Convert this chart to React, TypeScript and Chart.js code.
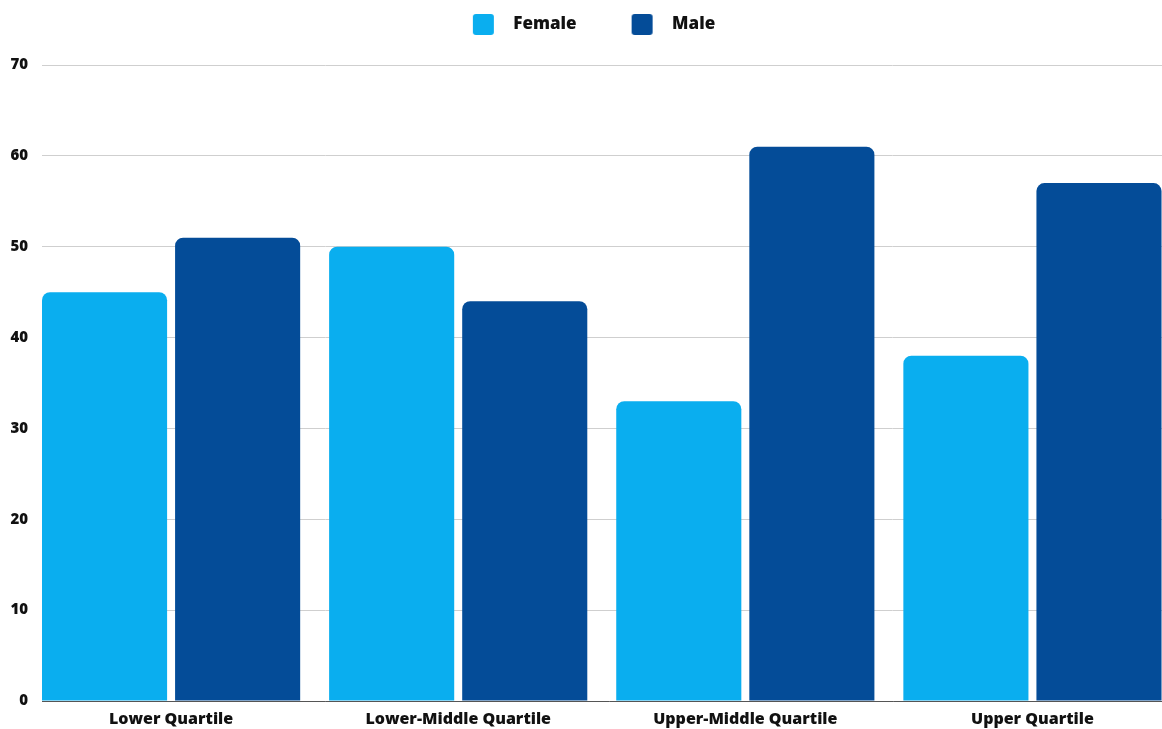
import React, { useEffect, useRef } from 'react';
import { Chart, registerables } from 'chart.js';

Chart.register(...registerables);

// ---- data ----
const categories = ['Lower Quartile', 'Lower-Middle Quartile', 'Upper-Middle Quartile', 'Upper Quartile'];
const seriesNames = ['Female', 'Male'];
const femaleValues = [45, 50, 33, 38];
const maleValues = [51, 44, 61, 57];
const yTickValues = [0, 10, 20, 30, 40, 50, 60, 70];

// ---- styling / layout ----
const seriesColors = ['#0AAEEF', '#044C98'];
const CANVAS_W = 1209;
const CANVAS_H = 729;
const OFFSET_X = 33;
const Y_AXIS_W = 75;
const X_AXIS_H = 28;
const LEGEND_H = 59;
const CAT_PCT = 0.927;
const BAR_PCT = 0.94;
const FONT = '"Open Sans", "DejaVu Sans", sans-serif';
const LEGEND_FONT = 17;
const SWATCH = 21;
const SWATCH_LEAD = 45;
const SWATCH_GAP = 19 - LEGEND_FONT / 2;
const SWATCH_W = SWATCH_LEAD + SWATCH + SWATCH_GAP;

function makeSwatch(color: string): HTMLCanvasElement {
  const c = document.createElement('canvas');
  c.width = Math.round(SWATCH_W);
  c.height = SWATCH;
  const ctx = c.getContext('2d')!;
  ctx.fillStyle = color;
  ctx.beginPath();
  (ctx as any).roundRect(SWATCH_LEAD, 0, SWATCH, SWATCH, 3);
  ctx.fill();
  return c;
}

const legendHeightPlugin = {
  id: 'legendHeight',
  beforeLayout(chart: any) {
    const lg = chart.legend;
    if (lg && !lg.__patched) {
      const f = lg.fit;
      lg.fit = function () {
        f.call(this);
        this.height = LEGEND_H;
      };
      lg.__patched = true;
    }
  },
};

// Align the first bar's left edge with the chart area's left edge.
const alignGroupsPlugin = {
  id: 'alignGroups',
  afterLayout(chart: any) {
    const x = chart.scales.x;
    const area = chart.chartArea;
    const k = ((1 - CAT_PCT) / 2 + (CAT_PCT * (1 - BAR_PCT)) / 4) / categories.length;
    const start = (area.left - k * area.right) / (1 - k);
    x._startPixel = start;
    x._length = x._endPixel - start;
  },
};

export default function App() {
  const ref = useRef<HTMLCanvasElement>(null);

  useEffect(() => {
    if (!ref.current) return;
    const swatches = seriesColors.map(makeSwatch);
    const chart = new Chart(ref.current, {
      type: 'bar',
      data: {
        labels: categories,
        datasets: [
          {
            label: seriesNames[0],
            data: femaleValues,
            backgroundColor: seriesColors[0],
            borderRadius: 8,
            categoryPercentage: CAT_PCT,
            barPercentage: BAR_PCT,
          },
          {
            label: seriesNames[1],
            data: maleValues,
            backgroundColor: seriesColors[1],
            borderRadius: 8,
            categoryPercentage: CAT_PCT,
            barPercentage: BAR_PCT,
          },
        ],
      },
      options: {
        responsive: false,
        animation: false,
        layout: { padding: { top: 6, left: 0, right: 0, bottom: 0 } },
        plugins: {
          tooltip: { enabled: false },
          legend: {
            position: 'top',
            align: 'center',
            labels: {
              usePointStyle: true,
              pointStyleWidth: Math.round(SWATCH_W),
              padding: 10,
              color: '#111111',
              font: { family: FONT, size: LEGEND_FONT, weight: 800 },
              generateLabels: (c: any) =>
                (Chart.defaults.plugins.legend.labels as any)
                  .generateLabels(c)
                  .map((it: any, i: number) => ({ ...it, pointStyle: swatches[i] })),
            },
          },
        },
        scales: {
          x: {
            offset: true,
            grid: { display: false, drawTicks: false },
            border: { display: true, color: '#555555', width: 1 },
            ticks: {
              padding: 9,
              color: '#111111',
              font: { family: FONT, size: 16, weight: 800 },
              maxRotation: 0,
              autoSkip: false,
            },
            afterFit: (s: any) => {
              s.height = X_AXIS_H;
            },
          },
          y: {
            min: 0,
            max: 70,
            grid: { color: '#cfcfcf', lineWidth: 1, drawTicks: false },
            border: { display: false },
            ticks: {
              padding: 14,
              color: '#111111',
              font: { family: FONT, size: 15, weight: 800 },
            },
            afterBuildTicks: (s: any) => {
              s.ticks = yTickValues.map((v) => ({ value: v }));
            },
            afterFit: (s: any) => {
              s.width = Y_AXIS_W;
            },
          },
        },
      },
      plugins: [legendHeightPlugin, alignGroupsPlugin],
    } as any);
    return () => chart.destroy();
  }, []);

  return (
    <div
      style={{
        position: 'fixed',
        left: 0,
        top: 0,
        width: 1162,
        height: 729,
        overflow: 'hidden',
        background: '#ffffff',
      }}
    >
      <canvas
        ref={ref}
        width={CANVAS_W}
        height={CANVAS_H}
        style={{ position: 'absolute', left: -OFFSET_X, top: 0, width: CANVAS_W, height: CANVAS_H }}
      />
    </div>
  );
}
